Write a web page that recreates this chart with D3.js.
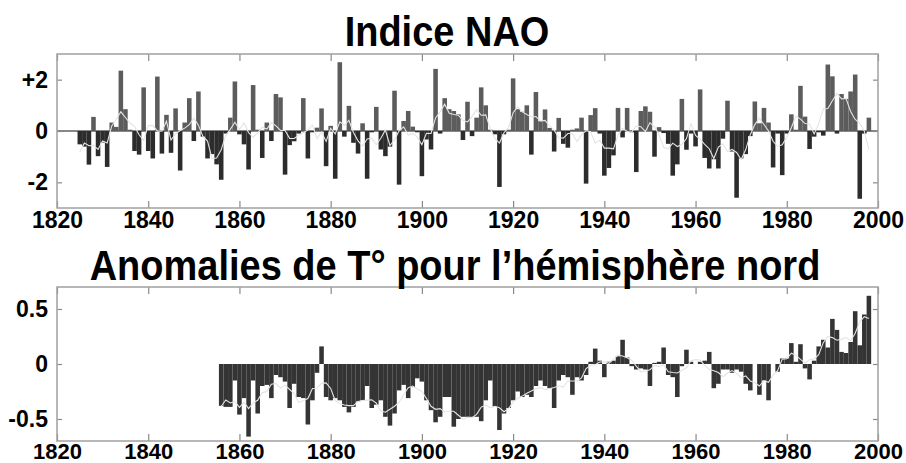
<!DOCTYPE html>
<html>
<head>
<meta charset="utf-8">
<script src="https://cdn.jsdelivr.net/npm/d3@7"></script>
<style>
  html, body { margin: 0; padding: 0; background: #fff; }
  svg { display: block; font-family: "Liberation Sans", Arial, sans-serif; }
</style>
</head>
<body>
<svg id="chart" width="906" height="463"></svg>
<script>
// Winter NAO index, one value per year starting at naoFirstYear
const naoFirstYear = 1825;
const naoValues = [
  -0.52, -0.61, -1.31, 0.55, -0.98, -0.45, -1.40, 0.33, 0.16, 2.35,   // 1825-1834
  0.85, 0.05, -0.78, -0.92, 1.70, -0.78, -1.07, 2.12, -0.88, 0.63,    // 1835-1844
  -0.85, 0.88, -1.54, 0.33, 1.28, -0.39, 1.54, -0.22, -1.07, -0.90,   // 1845-1854
  -1.30, -1.90, -0.10, 0.52, 1.93, -0.13, -0.52, -1.50, 1.79, 0.05,   // 1855-1864
  -1.05, 0.33, -0.39, 1.44, 1.31, -1.70, -0.55, -0.40, -0.10, 1.28,   // 1865-1874
  -1.07, -0.05, 0.13, 0.88, -1.37, 0.20, -1.86, 2.68, -0.22, 0.98,    // 1875-1884
  -0.46, -0.88, 0.30, -1.86, -0.05, 0.94, -0.72, -0.98, -0.61, 1.57,  // 1885-1894
  -2.09, 0.39, 0.78, 0.17, -0.05, -1.76, -0.33, -0.72, 2.42, -0.10,   // 1895-1904
  1.28, 0.85, 0.78, 0.65, -0.35, 1.14, -0.20, 0.52, 1.70, 1.00,       // 1905-1914
  0.05, -0.13, -2.18, -0.13, 0.05, 2.05, 0.85, 0.75, 1.00, -0.92,     // 1915-1924
  1.52, 0.38, 0.84, 0.12, -0.80, 0.51, -0.50, -0.65, 0.05, 0.10,      // 1925-1934
  0.52, -2.05, 0.62, 0.89, -0.10, -1.74, -1.44, -0.95, 0.90, -0.25,   // 1935-1944
  0.90, -0.05, -1.60, 0.78, 0.96, 0.75, -1.00, 0.15, -0.08, -0.50,    // 1945-1954
  -1.74, -1.30, 1.25, -0.73, -0.10, -0.60, 1.62, -1.05, -1.46, -1.10, // 1955-1964
  -1.46, -0.30, 1.18, -0.80, -2.60, -1.07, -0.90, -0.20, 1.15, 0.30,  // 1965-1974
  0.90, 0.33, -1.42, -0.10, -1.72, -0.10, 0.65, 0.05, 1.76, 0.56,     // 1975-1984
  -0.70, -0.22, -0.05, -0.18, 2.59, 2.13, -0.10, 1.44, 1.25, 1.54,    // 1985-1994
  2.20, -2.64, -0.10, 0.52                                            // 1995-1998
];

// Northern hemisphere temperature anomalies (°C), one value per year from tempFirstYear
const tempFirstYear = 1856;
const tempValues = [
  -0.38, -0.39, -0.39, -0.15, -0.46, -0.31, -0.66, -0.15, -0.45, -0.20, // 1856-1865
  -0.19, -0.31, -0.10, -0.12, -0.16, -0.40, -0.18, -0.30, -0.31, -0.55, // 1866-1875
  -0.33, -0.08, 0.16, -0.30, -0.33, -0.31, -0.33, -0.39, -0.44, -0.39,  // 1876-1885
  -0.34, -0.33, -0.20, -0.40, -0.37, -0.33, -0.48, -0.56, -0.45, -0.24, // 1886-1895
  -0.19, -0.31, -0.21, -0.13, -0.16, -0.33, -0.42, -0.53, -0.48, -0.30, // 1896-1905
  -0.30, -0.57, -0.50, -0.48, -0.48, -0.48, -0.48, -0.52, -0.33, -0.15, // 1906-1915
  -0.39, -0.60, -0.45, -0.40, -0.33, -0.25, -0.30, -0.28, -0.30, -0.20, // 1916-1925
  -0.15, -0.20, -0.22, -0.40, -0.15, -0.10, -0.12, -0.28, -0.12, -0.15, // 1926-1935
  -0.10, 0.02, 0.14, 0.03, -0.12, 0.02, 0.03, 0.07, 0.22, 0.06,         // 1936-1945
  -0.02, -0.05, -0.04, -0.05, -0.20, 0.01, 0.02, 0.15, -0.10, -0.12,    // 1946-1955
  -0.30, -0.02, 0.13, 0.02, 0.00, 0.02, 0.03, 0.11, -0.22, -0.18,       // 1956-1965
  -0.05, -0.05, -0.08, -0.05, -0.07, -0.18, -0.24, 0.00, -0.28, -0.15,  // 1966-1975
  -0.33, 0.00, -0.07, 0.05, 0.05, 0.19, 0.02, 0.18, -0.04, -0.14,       // 1976-1985
  0.03, 0.16, 0.22, 0.15, 0.41, 0.31, 0.11, 0.10, 0.20, 0.48,           // 1986-1995
  0.17, 0.45, 0.62                                                      // 1996-1998
];

const yearTicks = [1820, 1840, 1860, 1880, 1900, 1920, 1940, 1960, 1980, 2000];
const naoTicks = [-2, 0, 2];
const naoTickLabels = ["-2", "0", "+2"];
const tempTicks = [-0.5, 0, 0.5];
const tempTickLabels = ["-0.5", "0", "0.5"];
const titles = ["Indice NAO", "Anomalies de T° pour l’hémisphère nord"];

const svg = d3.select("#chart");

// centred running mean drawn over the bars
function runningMean(vals, half) {
  return vals.map((v, i) => {
    const s = vals.slice(Math.max(0, i - half), Math.min(vals.length, i + half + 1));
    return d3.mean(s);
  });
}

function panel(opts) {
  const { top, bottom, yDomain, firstYear, values, ticks, tickLabels,
          posColor, negColor, zeroLine, title, titleX, titleY, labelPad, labelSize } = opts;
  const left = 57, right = 878;
  const x = d3.scaleLinear().domain([1820, 2000]).range([left, right]);
  const y = d3.scaleLinear().domain(yDomain).range([bottom, top]);
  const data = values.map((v, i) => ({ year: firstYear + i, v }));
  const bw = x(1821) - x(1820);
  const g = svg.append("g");

  g.append("rect")
    .attr("x", left).attr("y", top)
    .attr("width", right - left).attr("height", bottom - top)
    .attr("fill", "#fff");

  if (zeroLine) {
    g.append("line")
      .attr("x1", left).attr("x2", right)
      .attr("y1", y(0)).attr("y2", y(0))
      .attr("stroke", "#111").attr("stroke-width", 1.2);
  }

  g.append("g").selectAll("rect")
    .data(data)
    .join("rect")
    .attr("x", d => x(d.year) - bw / 2)
    .attr("width", bw)
    .attr("y", d => y(Math.max(0, d.v)))
    .attr("height", d => Math.abs(y(d.v) - y(0)))
    .attr("fill", d => d.v >= 0 ? posColor : negColor);

  const smooth = runningMean(values, 2);
  g.append("path")
    .datum(data.map((d, i) => ({ year: d.year, v: smooth[i] })))
    .attr("fill", "none")
    .attr("stroke", "#e4e4e4")
    .attr("stroke-width", 1.1)
    .attr("d", d3.line().x(d => x(d.year)).y(d => y(d.v)));

  // axes: inward ticks on all four sides
  const tickStyle = sel => {
    sel.select(".domain").remove();
    sel.selectAll(".tick line").attr("stroke", "#8a8a8a").attr("stroke-width", 1.2);
  };
  g.append("g").attr("transform", `translate(0,${bottom})`)
    .call(d3.axisBottom(x).tickValues(yearTicks).tickFormat(d3.format("d"))
      .tickSizeInner(-7).tickPadding(labelPad))
    .call(tickStyle)
    .call(s => s.selectAll("text").attr("font-size", labelSize).attr("font-weight", "bold")
      .attr("fill", "#000"));
  g.append("g").attr("transform", `translate(0,${top})`)
    .call(d3.axisTop(x).tickValues(yearTicks).tickFormat("").tickSizeInner(-7))
    .call(tickStyle);
  g.append("g").attr("transform", `translate(${left},0)`)
    .call(d3.axisLeft(y).tickValues(ticks).tickFormat((d, i) => tickLabels[i])
      .tickSizeInner(-5).tickPadding(9))
    .call(tickStyle)
    .call(s => s.selectAll("text").attr("font-size", 23).attr("font-weight", "bold")
      .attr("fill", "#000"));
  g.append("g").attr("transform", `translate(${right},0)`)
    .call(d3.axisRight(y).tickValues(ticks).tickFormat("").tickSizeInner(-5))
    .call(tickStyle);

  g.append("rect")
    .attr("x", left).attr("y", top)
    .attr("width", right - left).attr("height", bottom - top)
    .attr("fill", "none").attr("stroke", "#a0a0a0").attr("stroke-width", 1.5);

  // title, slightly stretched vertically like a condensed bold face
  svg.append("text")
    .attr("transform", `translate(${titleX},${titleY}) scale(1,1.12)`)
    .attr("text-anchor", "middle")
    .attr("font-size", 38).attr("font-weight", "bold")
    .attr("fill", "#000")
    .text(title);
}

panel({
  top: 54, bottom: 208, yDomain: [-3, 3],
  firstYear: naoFirstYear, values: naoValues,
  ticks: naoTicks, tickLabels: naoTickLabels,
  posColor: "#5c5c5c", negColor: "#2c2c2c", zeroLine: true,
  title: titles[0], titleX: 447, titleY: 46, labelPad: 4, labelSize: 23
});

panel({
  top: 287, bottom: 441, yDomain: [-0.7, 0.7],
  firstYear: tempFirstYear, values: tempValues,
  ticks: tempTicks, tickLabels: tempTickLabels,
  posColor: "#343434", negColor: "#343434", zeroLine: false,
  title: titles[1], titleX: 455, titleY: 280, labelPad: 2, labelSize: 22
});
</script>
</body>
</html>
